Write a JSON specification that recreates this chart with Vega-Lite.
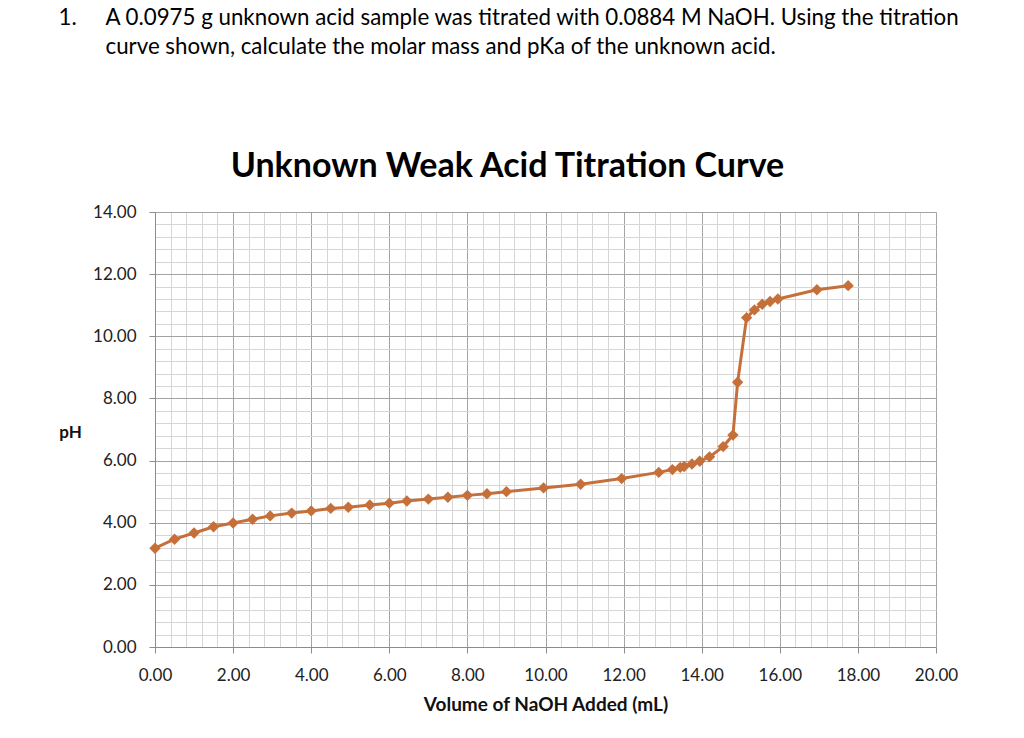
{
  "$schema": "https://vega.github.io/schema/vega-lite/v6.json",
  "description": "Unknown weak acid titration curve (pH vs volume of NaOH added).",
  "autosize": {"type": "none"},
  "padding": {"left": 155, "top": 212, "right": 88, "bottom": 91},
  "background": "white",
  "width": 781,
  "height": 435,
  "title": {
    "text": "Unknown Weak Acid Titration Curve",
    "anchor": "middle",
    "frame": "group",
    "dx": -38,
    "offset": -178,
    "font": "Lato",
    "fontSize": 34,
    "fontWeight": "bold",
    "color": "#000000"
  },
  "data": {
    "values": [
      {"volume": 0, "pH": 3.18},
      {"volume": 0.5, "pH": 3.47},
      {"volume": 1.0, "pH": 3.67},
      {"volume": 1.5, "pH": 3.87},
      {"volume": 2.0, "pH": 3.99},
      {"volume": 2.5, "pH": 4.11},
      {"volume": 2.95, "pH": 4.22},
      {"volume": 3.5, "pH": 4.31},
      {"volume": 4.0, "pH": 4.38},
      {"volume": 4.5, "pH": 4.46},
      {"volume": 4.95, "pH": 4.5},
      {"volume": 5.5, "pH": 4.57},
      {"volume": 6.0, "pH": 4.63},
      {"volume": 6.45, "pH": 4.7},
      {"volume": 7.0, "pH": 4.76},
      {"volume": 7.5, "pH": 4.82},
      {"volume": 8.0, "pH": 4.88},
      {"volume": 8.5, "pH": 4.93},
      {"volume": 9.0, "pH": 5.0},
      {"volume": 9.95, "pH": 5.12},
      {"volume": 10.9, "pH": 5.24},
      {"volume": 11.95, "pH": 5.42},
      {"volume": 12.9, "pH": 5.62},
      {"volume": 13.25, "pH": 5.71},
      {"volume": 13.45, "pH": 5.78},
      {"volume": 13.55, "pH": 5.81},
      {"volume": 13.75, "pH": 5.89},
      {"volume": 13.95, "pH": 5.98},
      {"volume": 14.2, "pH": 6.12},
      {"volume": 14.55, "pH": 6.45},
      {"volume": 14.8, "pH": 6.82},
      {"volume": 14.92, "pH": 8.52},
      {"volume": 15.15, "pH": 10.6},
      {"volume": 15.35, "pH": 10.85},
      {"volume": 15.55, "pH": 11.03},
      {"volume": 15.75, "pH": 11.12},
      {"volume": 15.95, "pH": 11.2},
      {"volume": 16.95, "pH": 11.5},
      {"volume": 17.75, "pH": 11.63}
    ]
  },
  "layer": [
    {
      "mark": {"type": "line", "color": "#c5703a", "strokeWidth": 3},
      "encoding": {
        "x": {
          "field": "volume",
          "type": "quantitative",
          "scale": {"domain": [0, 20], "nice": false, "zero": false},
          "axis": {
            "orient": "bottom",
            "title": "Volume of NaOH Added (mL)",
            "titleFontSize": 19,
            "values": [0, 0.4, 0.8, 1.2, 1.6, 2, 2.4, 2.8, 3.2, 3.6, 4, 4.4, 4.8, 5.2, 5.6, 6, 6.4, 6.8, 7.2, 7.6, 8, 8.4, 8.8, 9.2, 9.6, 10, 10.4, 10.8, 11.2, 11.6, 12, 12.4, 12.8, 13.2, 13.6, 14, 14.4, 14.8, 15.2, 15.6, 16, 16.4, 16.8, 17.2, 17.6, 18, 18.4, 18.8, 19.2, 19.6, 20],
            "labelExpr": "datum.value % 2 === 0 ? format(datum.value, '.2f') : ''",
            "labelFlush": false,
            "gridColor": {"condition": {"test": "datum.value % 2 === 0", "value": "#a3a3a3"}, "value": "#d6d6d6"},
            "tickOpacity": {"condition": {"test": "datum.value % 2 === 0", "value": 1}, "value": 0},
            "tickSize": 6,
            "labelPadding": 14,
            "titlePadding": 12
          }
        },
        "y": {
          "field": "pH",
          "type": "quantitative",
          "scale": {"domain": [0, 14], "nice": false, "zero": false},
          "axis": {
            "orient": "left",
            "title": "pH",
            "titleAngle": 0,
            "titleAlign": "center",
            "titleBaseline": "middle",
            "titleX": -85,
            "titleY": 220,
            "values": [0, 0.4, 0.8, 1.2, 1.6, 2, 2.4, 2.8, 3.2, 3.6, 4, 4.4, 4.8, 5.2, 5.6, 6, 6.4, 6.8, 7.2, 7.6, 8, 8.4, 8.8, 9.2, 9.6, 10, 10.4, 10.8, 11.2, 11.6, 12, 12.4, 12.8, 13.2, 13.6, 14],
            "labelExpr": "datum.value % 2 === 0 ? format(datum.value, '.2f') : ''",
            "labelFlush": false,
            "gridColor": {"condition": {"test": "datum.value % 2 === 0", "value": "#a3a3a3"}, "value": "#d6d6d6"},
            "tickOpacity": {"condition": {"test": "datum.value % 2 === 0", "value": 1}, "value": 0},
            "tickSize": 6,
            "labelPadding": 13
          }
        }
      }
    },
    {
      "mark": {"type": "point", "shape": "diamond", "filled": true, "opacity": 1, "size": 130, "color": "#c5703a"},
      "encoding": {
        "x": {
          "field": "volume",
          "type": "quantitative",
          "axis": {
            "orient": "top",
            "grid": false,
            "labels": false,
            "ticks": false,
            "domain": false,
            "title": [
              "A 0.0975 g unknown acid sample was titrated with 0.0884 M NaOH. Using the titration",
              "curve shown, calculate the molar mass and pKa of the unknown acid."
            ],
            "titleFont": "Lato",
            "titleFontSize": 22.3,
            "titleFontWeight": "normal",
            "titleColor": "#000000",
            "titleLineHeight": 29,
            "titleAlign": "left",
            "titleAnchor": "start",
            "titleBaseline": "top",
            "titleX": -50,
            "titleY": -206
          }
        },
        "y": {
          "field": "pH",
          "type": "quantitative",
          "axis": {
            "orient": "right",
            "grid": false,
            "labels": false,
            "ticks": false,
            "domain": false,
            "title": "1.",
            "titleAngle": 0,
            "titleFont": "Lato",
            "titleFontSize": 22.3,
            "titleFontWeight": "normal",
            "titleColor": "#000000",
            "titleAlign": "left",
            "titleBaseline": "top",
            "titleX": -878,
            "titleY": -206
          }
        }
      }
    }
  ],
  "resolve": {"axis": {"x": "independent", "y": "independent"}},
  "config": {
    "view": {"stroke": null},
    "axis": {
      "grid": true,
      "gridWidth": 1,
      "gridOpacity": 1,
      "domainColor": "#8c8c8c",
      "tickColor": "#8c8c8c",
      "labelFont": "Lato",
      "labelFontSize": 17,
      "labelColor": "#222222",
      "labelOverlap": false,
      "titleFont": "Lato",
      "titleFontSize": 17,
      "titleFontWeight": "bold",
      "titleColor": "#111111"
    }
  }
}
